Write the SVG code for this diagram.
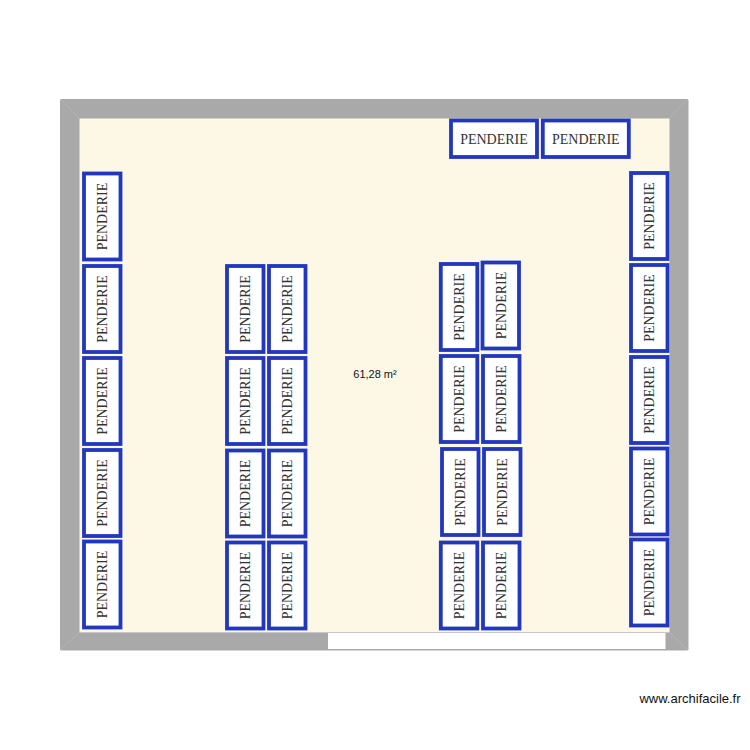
<svg xmlns="http://www.w3.org/2000/svg" xmlns:xlink="http://www.w3.org/1999/xlink" width="750" height="750" viewBox="0 0 750 750">
<style>
.box{fill:#fff;stroke:#2137bd;stroke-width:3.800}
.lbl{font-family:"Liberation Serif","Times New Roman",serif;font-size:14px;fill:#333;text-anchor:middle}
.info{font-family:"Liberation Sans",Arial,sans-serif;fill:#111;text-anchor:middle}
.miter{stroke:#bcbcbc;stroke-width:.6;fill:none}
</style>
<defs>
<g id="v"><rect class="box" x="2" y="2" width="36.500" height="86"/><text class="lbl" transform="translate(25 45) rotate(-90)">PENDERIE</text></g>
<g id="h"><rect class="box" x="2" y="2" width="86" height="36.500"/><text class="lbl" x="45" y="25">PENDERIE</text></g>
</defs>
<rect width="750" height="750" fill="#fff"/>
<g id="room">
<path d="M61 99H687.500L688.500 100V649.500L687.500 650.500H61L60 649.500V100Z" fill="#a9a9a9"/>
<rect x="79.500" y="118.500" width="590" height="514" fill="#fdf7e6"/>
<rect x="79.500" y="632" width="590" height="1" fill="#c8c8c8"/>
<rect x="328" y="633" width="337.500" height="16" fill="#fff"/>
<path class="miter" d="M61 100L79 118M687 100L669.500 118M61 649L79 632.500M687 649L669.500 632.500"/>
</g>
<g id="connectors"/>
<g id="top-1" transform="translate(449 118.500)"><use href="#h"/></g>
<g id="top-2" transform="translate(540.800 118.500)"><use href="#h"/></g>
<g id="left-1" transform="translate(82 171.500)"><use href="#v"/></g>
<g id="left-2" transform="translate(82 264)"><use href="#v"/></g>
<g id="left-3" transform="translate(82 356)"><use href="#v"/></g>
<g id="left-4" transform="translate(82 448)"><use href="#v"/></g>
<g id="left-5" transform="translate(82 539.500)"><use href="#v"/></g>
<g id="c2a-1" transform="translate(225 264)"><use href="#v"/></g>
<g id="c2a-2" transform="translate(225 356)"><use href="#v"/></g>
<g id="c2a-3" transform="translate(225 448.500)"><use href="#v"/></g>
<g id="c2a-4" transform="translate(225 540.500)"><use href="#v"/></g>
<g id="c2b-1" transform="translate(267 264)"><use href="#v"/></g>
<g id="c2b-2" transform="translate(267 356)"><use href="#v"/></g>
<g id="c2b-3" transform="translate(267 448.500)"><use href="#v"/></g>
<g id="c2b-4" transform="translate(267 540.500)"><use href="#v"/></g>
<g id="c3a-1" transform="translate(438.800 262)"><use href="#v"/></g>
<g id="c3a-2" transform="translate(438.800 354)"><use href="#v"/></g>
<g id="c3a-3" transform="translate(440 447)"><use href="#v"/></g>
<g id="c3a-4" transform="translate(438.800 540.500)"><use href="#v"/></g>
<g id="c3b-1" transform="translate(480.500 260.500)"><use href="#v"/></g>
<g id="c3b-2" transform="translate(481 354)"><use href="#v"/></g>
<g id="c3b-3" transform="translate(482 447)"><use href="#v"/></g>
<g id="c3b-4" transform="translate(481 540.500)"><use href="#v"/></g>
<g id="right-1" transform="translate(629 171)"><use href="#v"/></g>
<g id="right-2" transform="translate(629 263)"><use href="#v"/></g>
<g id="right-3" transform="translate(629 355)"><use href="#v"/></g>
<g id="right-4" transform="translate(629 446.500)"><use href="#v"/></g>
<g id="right-5" transform="translate(629 537.500)"><use href="#v"/></g>
<text class="info" x="375" y="378" font-size="11">61,28 m²</text>
<text class="info" x="690" y="703" font-size="13">www.archifacile.fr</text>
</svg>
